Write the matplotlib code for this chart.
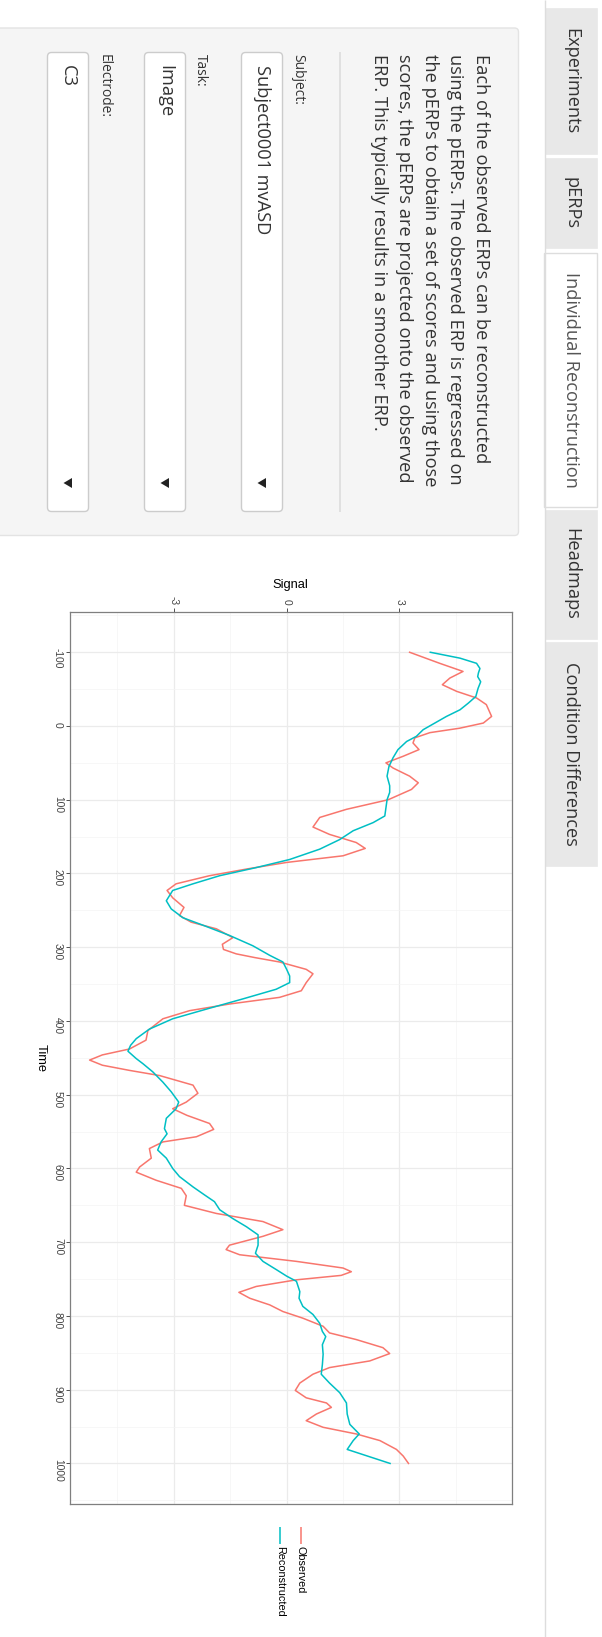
import matplotlib
matplotlib.use('Agg')
import matplotlib.pyplot as plt
from matplotlib.patches import FancyBboxPatch, Rectangle, Polygon
from matplotlib.ticker import FixedLocator

# ---------------- data ----------------
tabs = ["Experiments", "pERPs", "Individual Reconstruction", "Headmaps", "Condition Differences"]
active_tab = "Individual Reconstruction"
paragraph = ["Each of the observed ERPs can be reconstructed",
             "using the pERPs. The observed ERP is regressed on",
             "the pERPs to obtain a set of scores and using those",
             "scores, the pERPs are projected onto the observed",
             "ERP. This typically results in a smoother ERP."]
select_labels = ["Subject:", "Task:", "Electrode:"]
select_values = ["Subject0001 mvASD", "Image", "C3"]

series_names = ["Observed", "Reconstructed"]
series_colors = ["#F8766D", "#00BFC4"]

time_obs = [-100, -85, -74, -65, -56, -47, -38, -29, -13, -4, 3, 9, 16, 23, 32, 41, 50, 57, 68, 77,
            86, 100, 113, 124, 137, 147, 158, 166, 176, 185, 194, 203, 214, 223, 233, 246, 257, 266,
            275, 287, 296, 303, 309, 314, 320, 330, 336, 348, 359, 368, 377, 386, 397, 413, 426, 438,
            446, 453, 460, 467, 474, 487, 498, 510, 519, 528, 539, 547, 557, 564, 573, 586, 598, 605,
            616, 627, 637, 650, 661, 672, 683, 692, 704, 710, 717, 726, 735, 740, 745, 751, 760, 768,
            776, 785, 794, 803, 814, 823, 832, 843, 851, 861, 870, 879, 891, 901, 911, 918, 924, 933,
            942, 951, 960, 969, 981, 990, 1000]
observed = [3.27, 4.07, 4.69, 4.34, 4.14, 4.52, 5.05, 5.31, 5.45, 5.23, 4.60, 3.81, 3.41, 3.36, 3.52,
            3.10, 2.64, 2.83, 3.27, 3.50, 3.32, 2.70, 1.59, 0.88, 0.70, 1.14, 1.85, 2.09, 1.50, 0.00,
            -1.07, -2.05, -2.94, -3.18, -3.03, -2.73, -2.85, -2.54, -1.87, -1.43, -1.71, -1.68, -1.34,
            -0.85, -0.19, 0.52, 0.70, 0.52, 0.39, -0.19, -1.52, -2.58, -3.29, -3.69, -3.74, -4.18,
            -4.90, -5.24, -4.90, -4.18, -3.38, -2.49, -2.36, -2.67, -3.03, -2.65, -2.05, -1.94, -2.40,
            -3.29, -3.65, -3.60, -3.91, -4.00, -3.47, -2.80, -2.67, -2.72, -1.87, -0.63, -0.10, -0.63,
            -1.52, -1.61, -1.25, 0.26, 1.50, 1.72, 1.45, 0.26, -0.81, -1.27, -0.98, -0.45, -0.10, 0.43,
            0.97, 1.14, 1.85, 2.56, 2.74, 2.21, 1.14, 0.70, 0.35, 0.23, 0.52, 1.06, 1.19, 0.79, 0.52,
            0.97, 1.85, 2.48, 2.92, 3.10, 3.24]

time_rec = [-100, -92, -85, -78, -72, -67, -60, -51, -40, -31, -22, -13, -4, 5, 14, 21, 32, 43, 55, 68,
            81, 90, 100, 122, 131, 142, 154, 167, 181, 192, 203, 214, 223, 237, 248, 260, 271, 284, 298,
            311, 320, 330, 339, 348, 357, 370, 384, 397, 411, 424, 433, 441, 451, 458, 469, 483, 496,
            510, 519, 532, 546, 553, 564, 575, 586, 600, 611, 625, 636, 645, 656, 668, 679, 690, 704,
            715, 726, 737, 746, 753, 767, 776, 787, 798, 810, 821, 828, 839, 852, 866, 879, 891, 904,
            918, 933, 947, 960, 969, 981, 988, 1000]
reconstructed = [3.82, 4.61, 5.05, 5.14, 5.10, 5.08, 5.16, 5.09, 5.03, 4.83, 4.61, 4.25, 3.94, 3.63,
                 3.45, 3.19, 2.96, 2.83, 2.72, 2.67, 2.74, 2.74, 2.67, 2.61, 2.30, 1.77, 1.41, 0.88,
                 0.08, -0.81, -1.78, -2.49, -3.03, -3.20, -3.07, -2.76, -2.18, -1.52, -0.90, -0.45,
                 -0.10, 0.00, 0.08, 0.08, -0.28, -1.16, -2.14, -3.03, -3.65, -4.00, -4.15, -4.22,
                 -4.00, -3.82, -3.56, -3.29, -3.07, -2.87, -2.94, -3.20, -3.25, -3.18, -3.34, -3.43,
                 -3.20, -3.03, -2.85, -2.49, -2.18, -1.92, -1.78, -1.43, -1.07, -0.76, -0.76, -0.83,
                 -0.63, -0.28, 0.00, 0.26, 0.35, 0.33, 0.43, 0.70, 0.88, 0.95, 1.04, 0.95, 0.97, 0.95,
                 0.92, 1.14, 1.41, 1.59, 1.61, 1.68, 1.93, 1.77, 1.61, 2.03, 2.75]

signal_ticks = [-3, 0, 3]
time_ticks = list(range(-100, 1001, 100))

# ---------------- figure ----------------
W, H = 602, 1637
PT = 0.72  # points per pixel at dpi 100
fig = plt.figure(figsize=(W / 100, H / 100), dpi=100, facecolor='white')
ui = fig.add_axes([0, 0, 1, 1])
ui.set_xlim(0, W)
ui.set_ylim(H, 0)
ui.axis('off')

UIFONT = 'Open Sans'

# nav-tabs bottom border
ui.plot([544.5, 544.5], [0, H], color='#dddddd', lw=1, solid_capstyle='butt')
tab_spans = [(8.3, 154.4), (157.5, 248.3), (252.5, 506.5), (509.5, 638.5), (642.0, 866.0)]
for name, (y0, y1) in zip(tabs, tab_spans):
    act = name == active_tab
    if act:
        r = Rectangle((543.5, y0), 597 - 543.5, y1 - y0, fc='white', ec='#dddddd', lw=1)
    else:
        r = Rectangle((545, y0), 597 - 545, y1 - y0, fc='#e8e8e8', ec='#e8e8e8', lw=0.5)
    ui.add_patch(r)
    ui.text(571, (y0 + y1) / 2, name, rotation=-90, ha='center', va='center',
            fontsize=18.3 * PT, family=UIFONT, color='#555555' if act else '#333333')

# well panel
ui.add_patch(FancyBboxPatch((-10, 28.0), 528.5, 507.5, boxstyle='round,pad=0,rounding_size=4',
                            fc='#f5f5f5', ec='#e3e3e3', lw=1))

# paragraph
for i, line in enumerate(paragraph):
    ui.text(481 - i * 25.6, 54, line, rotation=-90, ha='center', va='top',
            fontsize=18.3 * PT, family=UIFONT, color='#333333')

# hr
ui.plot([339.5, 339.5], [52, 512], color='#dedede', lw=1.3, solid_capstyle='butt')

# selects
label_x = [297.5, 200.5, 104.5]
box_x = [(241.5, 282.5), (144.5, 185.5), (47.5, 88.5)]
for lab, val, lx, (bx0, bx1) in zip(select_labels, select_values, label_x, box_x):
    ui.text(lx, 54, lab, rotation=-90, ha='center', va='top',
            fontsize=13.8 * PT, family=UIFONT, color='#333333')
    ui.add_patch(FancyBboxPatch((bx0, 52.5), bx1 - bx0, 459, boxstyle='round,pad=0,rounding_size=4',
                                fc='white', ec='#cccccc', lw=1))
    xc = (bx0 + bx1) / 2
    ui.text(xc, 65, val, rotation=-90, ha='center', va='top',
            fontsize=18.3 * PT, family=UIFONT, color='#333333')
    ui.add_patch(Polygon([(xc - 4.5, 483), (xc + 4, 478), (xc + 4, 488)], closed=True,
                         fc='#222222', ec='none'))

# ---------------- plot ----------------
PL, PR, PT_, PB = 69.5, 511.7, 611.7, 1504.0
ax = fig.add_axes([PL / W, 1 - PB / H, (PR - PL) / W, (PB - PT_) / H])
ax.set_facecolor('white')
ax.plot(observed, time_obs, color=series_colors[0], lw=1.1, solid_joinstyle='round')
ax.plot(reconstructed, time_rec, color=series_colors[1], lw=1.1, solid_joinstyle='round')

allv = observed + reconstructed
vmin, vmax = min(allv), max(allv)
xr = vmax - vmin
ax.set_xlim(vmin - 0.05 * xr, vmax + 0.05 * xr)
tr = max(time_obs) - min(time_obs)
ax.set_ylim(max(time_obs) + 0.05 * tr, min(time_obs) - 0.05 * tr)

ax.xaxis.set_major_locator(FixedLocator(signal_ticks))
ax.xaxis.set_minor_locator(FixedLocator([-4.5, -1.5, 1.5, 4.5]))
ax.yaxis.set_major_locator(FixedLocator(time_ticks))
ax.yaxis.set_minor_locator(FixedLocator([t + 50 for t in range(-200, 1001, 100)]))
ax.set_xticklabels([str(v) for v in signal_ticks])
ax.set_yticklabels([str(v) for v in time_ticks])
ax.grid(which='major', color='#ebebeb', lw=0.9)
ax.grid(which='minor', color='#f4f4f4', lw=0.5)
ax.set_axisbelow(True)

ax.xaxis.tick_top()
ax.xaxis.set_label_position('top')
ax.tick_params(which='major', length=3.2, width=0.6, color='#333333', labelsize=7.4,
               labelcolor='#444444', pad=1.5)
ax.tick_params(which='minor', length=0)
ax.tick_params(axis='x', labelrotation=-90)
ax.tick_params(axis='y', labelrotation=-90)
for s in ax.spines.values():
    s.set_color('#7f7f7f')
    s.set_linewidth(0.9)

ax.set_xlabel('Signal', fontsize=9.3, family='Liberation Sans', color='black')
ax.xaxis.set_label_coords(0.5, (PT_ - 585) / (PB - PT_) + 1)
ax.xaxis.label.set_verticalalignment('center')
ax.set_ylabel('Time', fontsize=9.3, family='Liberation Sans', color='black', rotation=-90)
ax.yaxis.set_label_coords((41.0 - PL) / (PR - PL), 0.5)
ax.yaxis.label.set_verticalalignment('center')
ax.yaxis.label.set_horizontalalignment('center')
for lbl in ax.get_xticklabels() + ax.get_yticklabels():
    lbl.set_family('Liberation Sans')

# legend (rotated, drawn as keys + text)
leg_x = [300.7, 279.7]
for name, col, lx in zip(series_names, series_colors, leg_x):
    ui.plot([lx, lx], [1527, 1544], color=col, lw=1.1, solid_capstyle='butt')
    ui.text(lx, 1546, name, rotation=-90, ha='center', va='top', fontsize=7.8,
            family='Liberation Sans', color='black')

fig.savefig('out.png', dpi=100, facecolor='white')
